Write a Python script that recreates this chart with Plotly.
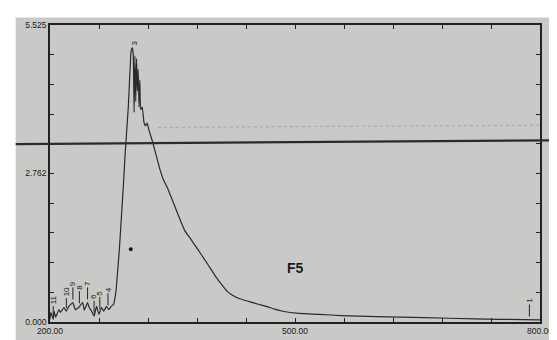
import numpy as np
import plotly.graph_objects as go

# ---- data ----
wavelength = [200, 201, 204, 205, 207, 211, 213, 217, 220, 223, 228, 231, 235, 240, 242,
              246, 248, 251, 254, 257, 260, 263, 266, 269, 272, 275, 278, 279, 281, 285,
              290, 292, 296, 299, 300, 301, 302, 303, 304, 305, 306, 307, 308, 309, 310,
              311, 313, 315, 317, 319, 321, 326, 330, 335, 339, 344, 350, 357, 365, 372,
              381, 389, 398, 404, 410, 417, 423, 429, 437, 446, 455, 465, 475, 485, 505,
              530, 557, 600, 629, 689, 750, 800]
absorbance = [0.05, 0.18, 0.05, 0.20, 0.09, 0.23, 0.18, 0.27, 0.20, 0.29, 0.36, 0.23, 0.27, 0.36, 0.22,
              0.36, 0.27, 0.20, 0.11, 0.29, 0.14, 0.27, 0.20, 0.29, 0.23, 0.29, 0.33, 0.40, 0.60, 1.37,
              2.58, 3.12, 4.03, 5.00, 5.08, 5.10, 4.95, 3.90, 4.95, 4.10, 4.90, 4.30, 4.70, 4.00, 4.50,
              3.95, 4.00, 3.72, 3.65, 3.70, 3.58, 3.33, 3.10, 2.82, 2.64, 2.49, 2.26, 1.99, 1.70, 1.55,
              1.35, 1.17, 0.96, 0.82, 0.70, 0.57, 0.50, 0.45, 0.41, 0.37, 0.33, 0.29, 0.24, 0.20, 0.16,
              0.14, 0.12, 0.10, 0.09, 0.07, 0.05, 0.04]

x_ticks = [200, 260, 320, 380, 440, 500, 560, 620, 680, 740, 800]
x_tick_labels = ["200.00", "", "", "", "", "500.00", "", "", "", "", "800.00"]
y_ticks = [0, 0.5525, 1.105, 1.6575, 2.21, 2.7625, 3.315, 3.8675, 4.42, 4.9725, 5.525]
y_tick_labels = ["0.000", "", "", "", "", "2.762", "", "", "", "", "5.525"]

peak_nm = [204, 220, 228, 236, 246, 254, 261, 271, 787]
peak_labels = ["11", "10", "9", "8", "7", "6", "5", "4", "1"]

sample_label = "F5"

bg = "#c9cac8"
ink = "#222222"

fig = go.Figure()
fig.add_trace(go.Scatter(x=wavelength, y=absorbance, mode="lines",
                         line=dict(color="#2a2a2a", width=1.2, shape="spline", smoothing=0.3),
                         hoverinfo="skip", showlegend=False))

annotations = []
for nm, lab in zip(peak_nm, peak_labels):
    tip = float(np.interp(nm, wavelength, absorbance)) + 0.06
    annotations.append(dict(x=nm, y=tip, xref="x", yref="y", text=lab, textangle=-90,
                            showarrow=True, arrowhead=0, arrowwidth=1, arrowcolor=ink,
                            ax=0, ay=-16, font=dict(size=8, color=ink, family="Liberation Sans")))
annotations.append(dict(x=500, y=1.0, xref="x", yref="y", text="<b>" + sample_label + "</b>",
                        showarrow=False, font=dict(size=14, color="#1a1a1a", family="Liberation Sans")))
annotations.append(dict(x=298, y=1.37, xref="x", yref="y", text="●", showarrow=False,
                        font=dict(size=9, color="#111111")))
annotations.append(dict(x=304, y=5.2, xref="x", yref="y", text="3", textangle=-90, showarrow=False,
                        font=dict(size=8, color=ink, family="Liberation Sans")))

shapes = [
    # white border of the photo
    dict(type="rect", xref="paper", yref="paper", x0=-0.09, x1=-0.07, y0=-0.1, y1=1.1,
         fillcolor="white", line=dict(width=0), layer="above"),
    dict(type="rect", xref="paper", yref="paper", x0=-0.09, x1=1.1, y0=1.025, y1=1.1,
         fillcolor="white", line=dict(width=0), layer="above"),
    # ruled line on the paper
    dict(type="line", xref="paper", yref="y", x0=-0.07, x1=1.03, y0=3.31, y1=3.38,
         line=dict(color="#2b2b2b", width=2.2)),
    dict(type="line", xref="paper", yref="y", x0=0.22, x1=1.0, y0=3.62, y1=3.66,
         line=dict(color="#a9aaa8", width=1.2, dash="dot")),
]

axis_font = dict(size=8.5, color="#1a1a1a", family="Liberation Sans")
fig.update_layout(
    width=557, height=340,
    margin=dict(l=42, r=14, t=17, b=17),
    paper_bgcolor=bg, plot_bgcolor=bg,
    showlegend=False,
    annotations=annotations,
    shapes=shapes,
    xaxis=dict(range=[200, 800], tickvals=x_ticks, ticktext=x_tick_labels,
               ticks="inside", ticklen=4, tickwidth=1, tickcolor=ink,
               showline=True, linecolor=ink, linewidth=1.5, mirror="ticks",
               showgrid=False, zeroline=False, tickfont=axis_font),
    yaxis=dict(range=[0, 5.525], tickvals=y_ticks, ticktext=y_tick_labels,
               ticks="inside", ticklen=4, tickwidth=1, tickcolor=ink,
               showline=True, linecolor=ink, linewidth=1.5, mirror="ticks",
               showgrid=False, zeroline=False, tickfont=axis_font),
)

fig.write_html("out.html")
